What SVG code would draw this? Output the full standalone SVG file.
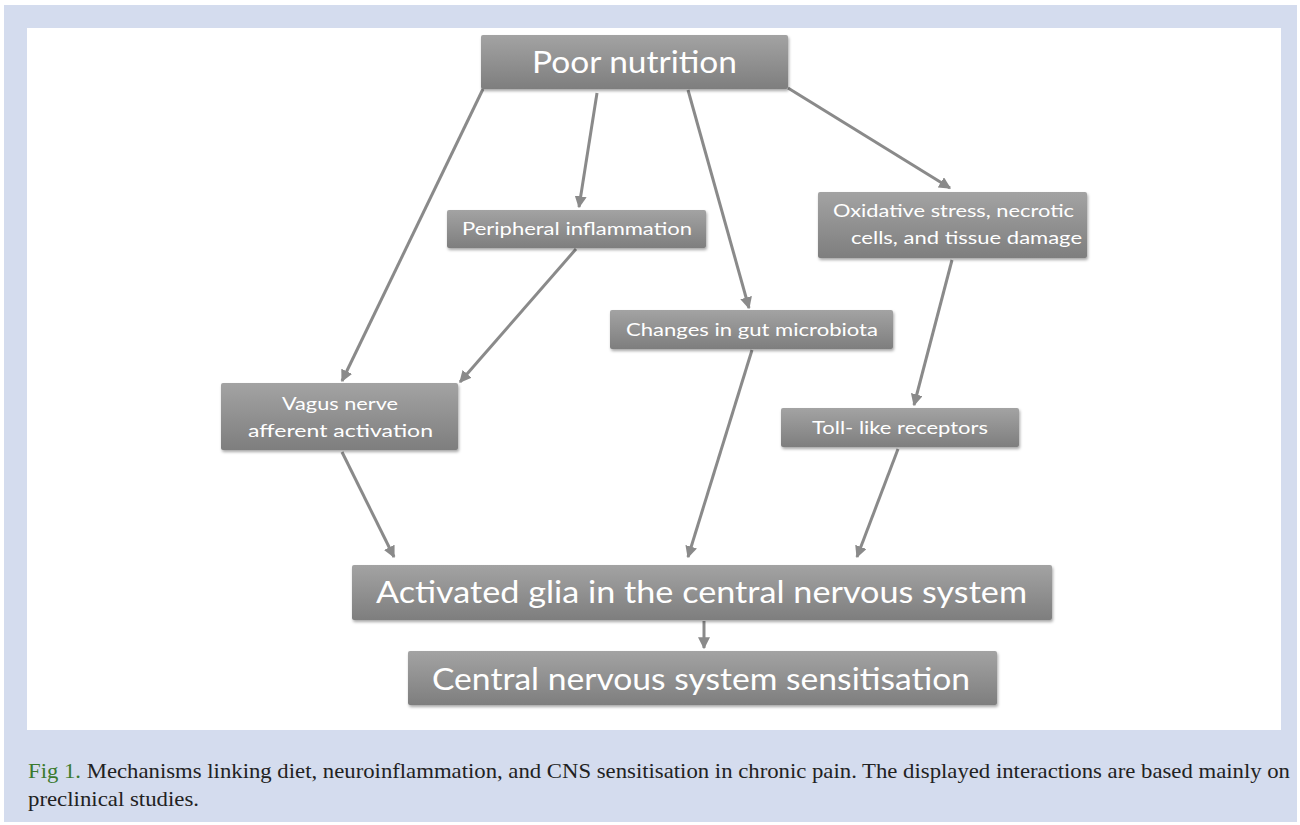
<svg xmlns="http://www.w3.org/2000/svg" width="1300" height="825" viewBox="0 0 1300 825">
<defs>
<linearGradient id="g" x1="0" y1="0" x2="0" y2="1">
<stop offset="0" stop-color="#a3a3a3"/>
<stop offset="1" stop-color="#7e7e7e"/>
</linearGradient>
<filter id="sh" x="-5%" y="-10%" width="110%" height="130%">
<feDropShadow dx="1" dy="2" stdDeviation="1.5" flood-color="#000" flood-opacity="0.35"/>
</filter>
<marker id="ah" viewBox="0 0 10 10" refX="9" refY="5" markerWidth="4" markerHeight="4" orient="auto" markerUnits="strokeWidth">
<path d="M0,0 L10,5 L0,10 z" fill="#8a8a8a"/>
</marker>
<style>
.box{fill:url(#g);filter:url(#sh);}
.t{font-family:Lato,"Open Sans","Liberation Sans",sans-serif;fill:#ffffff;text-anchor:start;}
.c{fill:none;stroke:#8a8a8a;stroke-width:3;marker-end:url(#ah);}
.cap{font-family:"Liberation Serif",serif;font-size:21px;fill:#222;}
</style>
</defs>
<rect x="0" y="0" width="1300" height="825" fill="#ffffff"/>
<rect x="4" y="5" width="1293" height="817" fill="#d4dcee"/>
<rect x="27" y="28" width="1254" height="702" fill="#ffffff"/>

<g id="connectors">
<line class="c" x1="483" y1="89" x2="342" y2="381"/>
<line class="c" x1="597" y1="93" x2="579" y2="207"/>
<line class="c" x1="688" y1="90" x2="749" y2="308"/>
<line class="c" x1="788" y1="88" x2="950" y2="188"/>
<line class="c" x1="576" y1="249" x2="460" y2="382"/>
<line class="c" x1="342" y1="452" x2="394" y2="557"/>
<line class="c" x1="752" y1="350" x2="688" y2="557"/>
<line class="c" x1="952" y1="260" x2="914" y2="405"/>
<line class="c" x1="898" y1="449" x2="857" y2="557"/>
<line class="c" x1="704" y1="621" x2="704" y2="648"/>
</g>

<g id="poor-nutrition">
<rect class="box" x="481" y="35" width="307" height="54" rx="2"/>
<text class="t" x="532" y="73" font-size="30" textLength="205" lengthAdjust="spacingAndGlyphs">Poor nutrition</text>
</g>
<g id="peripheral-inflammation">
<rect class="box" x="447" y="210" width="259" height="38" rx="2"/>
<text class="t" x="462" y="235" font-size="18" textLength="230" lengthAdjust="spacingAndGlyphs">Peripheral inflammation</text>
</g>
<g id="oxidative-stress">
<rect class="box" x="818" y="192" width="269" height="66" rx="2"/>
<text class="t" x="833" y="217" font-size="18" textLength="241" lengthAdjust="spacingAndGlyphs">Oxidative stress,  necrotic</text>
<text class="t" x="851" y="244" font-size="18" textLength="231" lengthAdjust="spacingAndGlyphs">cells, and  tissue damage</text>
</g>
<g id="gut-microbiota">
<rect class="box" x="610" y="310" width="283" height="39" rx="2"/>
<text class="t" x="626" y="336" font-size="18" textLength="252" lengthAdjust="spacingAndGlyphs">Changes in gut microbiota</text>
</g>
<g id="toll-like-receptors">
<rect class="box" x="781" y="408" width="238" height="39" rx="2"/>
<text class="t" x="812" y="434" font-size="18" textLength="176" lengthAdjust="spacingAndGlyphs">Toll- like receptors</text>
</g>
<g id="vagus-nerve">
<rect class="box" x="221" y="383" width="237" height="67" rx="2"/>
<text class="t" x="282" y="410" font-size="18" textLength="116" lengthAdjust="spacingAndGlyphs">Vagus nerve</text>
<text class="t" x="248" y="437" font-size="18" textLength="185" lengthAdjust="spacingAndGlyphs">afferent  activation</text>
</g>
<g id="activated-glia">
<rect class="box" x="352" y="565" width="700" height="55" rx="2"/>
<text class="t" x="376" y="603" font-size="30" textLength="651" lengthAdjust="spacingAndGlyphs">Activated  glia in the  central  nervous system</text>
</g>
<g id="cns-sensitisation">
<rect class="box" x="408" y="651" width="589" height="54" rx="2"/>
<text class="t" x="432" y="690" font-size="30" textLength="538" lengthAdjust="spacingAndGlyphs">Central  nervous  system  sensitisation</text>
</g>

<g id="caption">
<text class="cap" x="28" y="778" textLength="1262" lengthAdjust="spacingAndGlyphs"><tspan fill="#3b7a2e">Fig 1.</tspan> Mechanisms linking diet, neuroinflammation, and CNS sensitisation in chronic pain. The displayed interactions are based mainly on</text>
<text class="cap" x="28" y="806" textLength="171" lengthAdjust="spacingAndGlyphs">preclinical studies.</text>
</g>
</svg>
